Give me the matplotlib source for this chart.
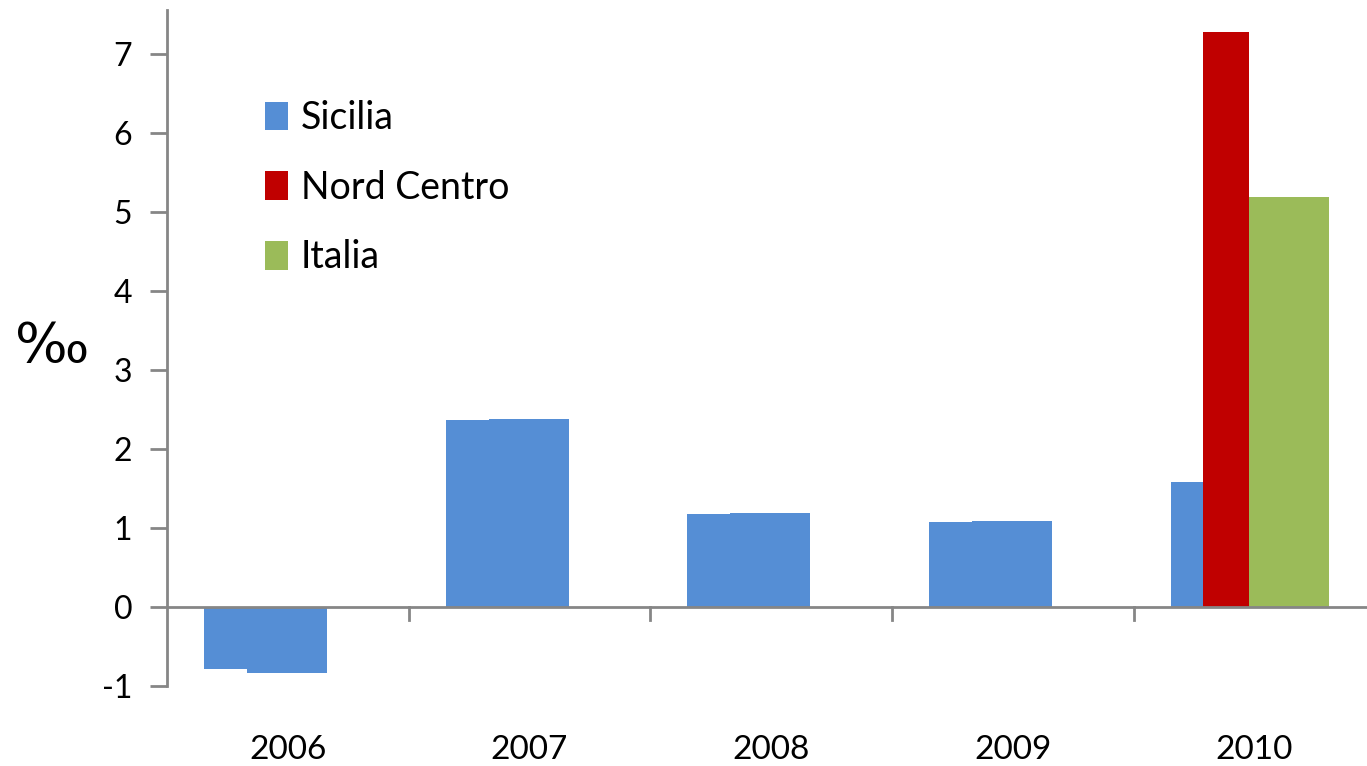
import matplotlib
matplotlib.use("Agg")
import matplotlib.pyplot as plt
import numpy as np

years = ["2006", "2007", "2008", "2009", "2010"]
sicilia_a = [-0.79, 2.37, 1.18, 1.075, 1.58]
sicilia_b = [-0.83, 2.38, 1.19, 1.085, 1.58]
nord_centro = [np.nan, np.nan, np.nan, np.nan, 7.28]
italia = [np.nan, np.nan, np.nan, np.nan, 5.19]

BLUE = "#558ED5"
RED = "#C00000"
GREEN = "#9BBB59"
GRAY = "#868686"

plt.rcParams['font.family'] = ['Lato', 'DejaVu Sans']

fig = plt.figure(figsize=(13.67, 7.66), dpi=100)
ax = fig.add_axes([167/1367, 80/766, 1 - 167/1367, 676/766])

x = np.arange(len(years))
ax.bar(x - 0.347, sicilia_a, width=0.178, align='edge', color=BLUE, label='Sicilia', zorder=2)
ax.bar(x - 0.169, sicilia_b, width=0.331, align='edge', color=BLUE, zorder=2)
ax.bar(x - 0.213, nord_centro, width=0.19, align='edge', color=RED, label='Nord Centro', zorder=3)
ax.bar(x - 0.022, italia, width=0.331, align='edge', color=GREEN, label='Italia', zorder=3)

ax.set_xlim(-0.5, 4.466)
ax.set_ylim(-1, 7.56)

for s in ['top', 'right', 'bottom']:
    ax.spines[s].set_visible(False)
ax.spines['left'].set_color(GRAY)
ax.spines['left'].set_linewidth(2)
ax.axhline(0, color=GRAY, lw=2, zorder=4)

ax.set_yticks(range(-1, 8))
ax.set_yticklabels([str(v) for v in range(-1, 8)])
ax.tick_params(axis='y', direction='out', length=12, width=2, color=GRAY,
               labelsize=23, pad=13)

# x ticks: category boundaries along zero line
ax.set_xticks([])
for b in np.arange(0.5, len(years) - 0.5, 1.0):
    ax.plot([b, b], [0, -0.16], color=GRAY, lw=2, zorder=4, clip_on=False)
for i, y in enumerate(years):
    ax.text(x[i], -1.62, y, ha='center', va='top', fontsize=24, clip_on=False)

fig.text(15/1367, 1 - 347/766, "‰", fontsize=40, ha='left', va='center',
         family=['DejaVu Sans'])

leg = ax.legend(loc='upper left', bbox_to_anchor=(83/1200, 1 - 75/676), frameon=False,
                fontsize=27, handlelength=0.6, handleheight=0.8, handletextpad=0.35,
                labelspacing=0.9, borderaxespad=0)

fig.savefig("out.png", dpi=100)
